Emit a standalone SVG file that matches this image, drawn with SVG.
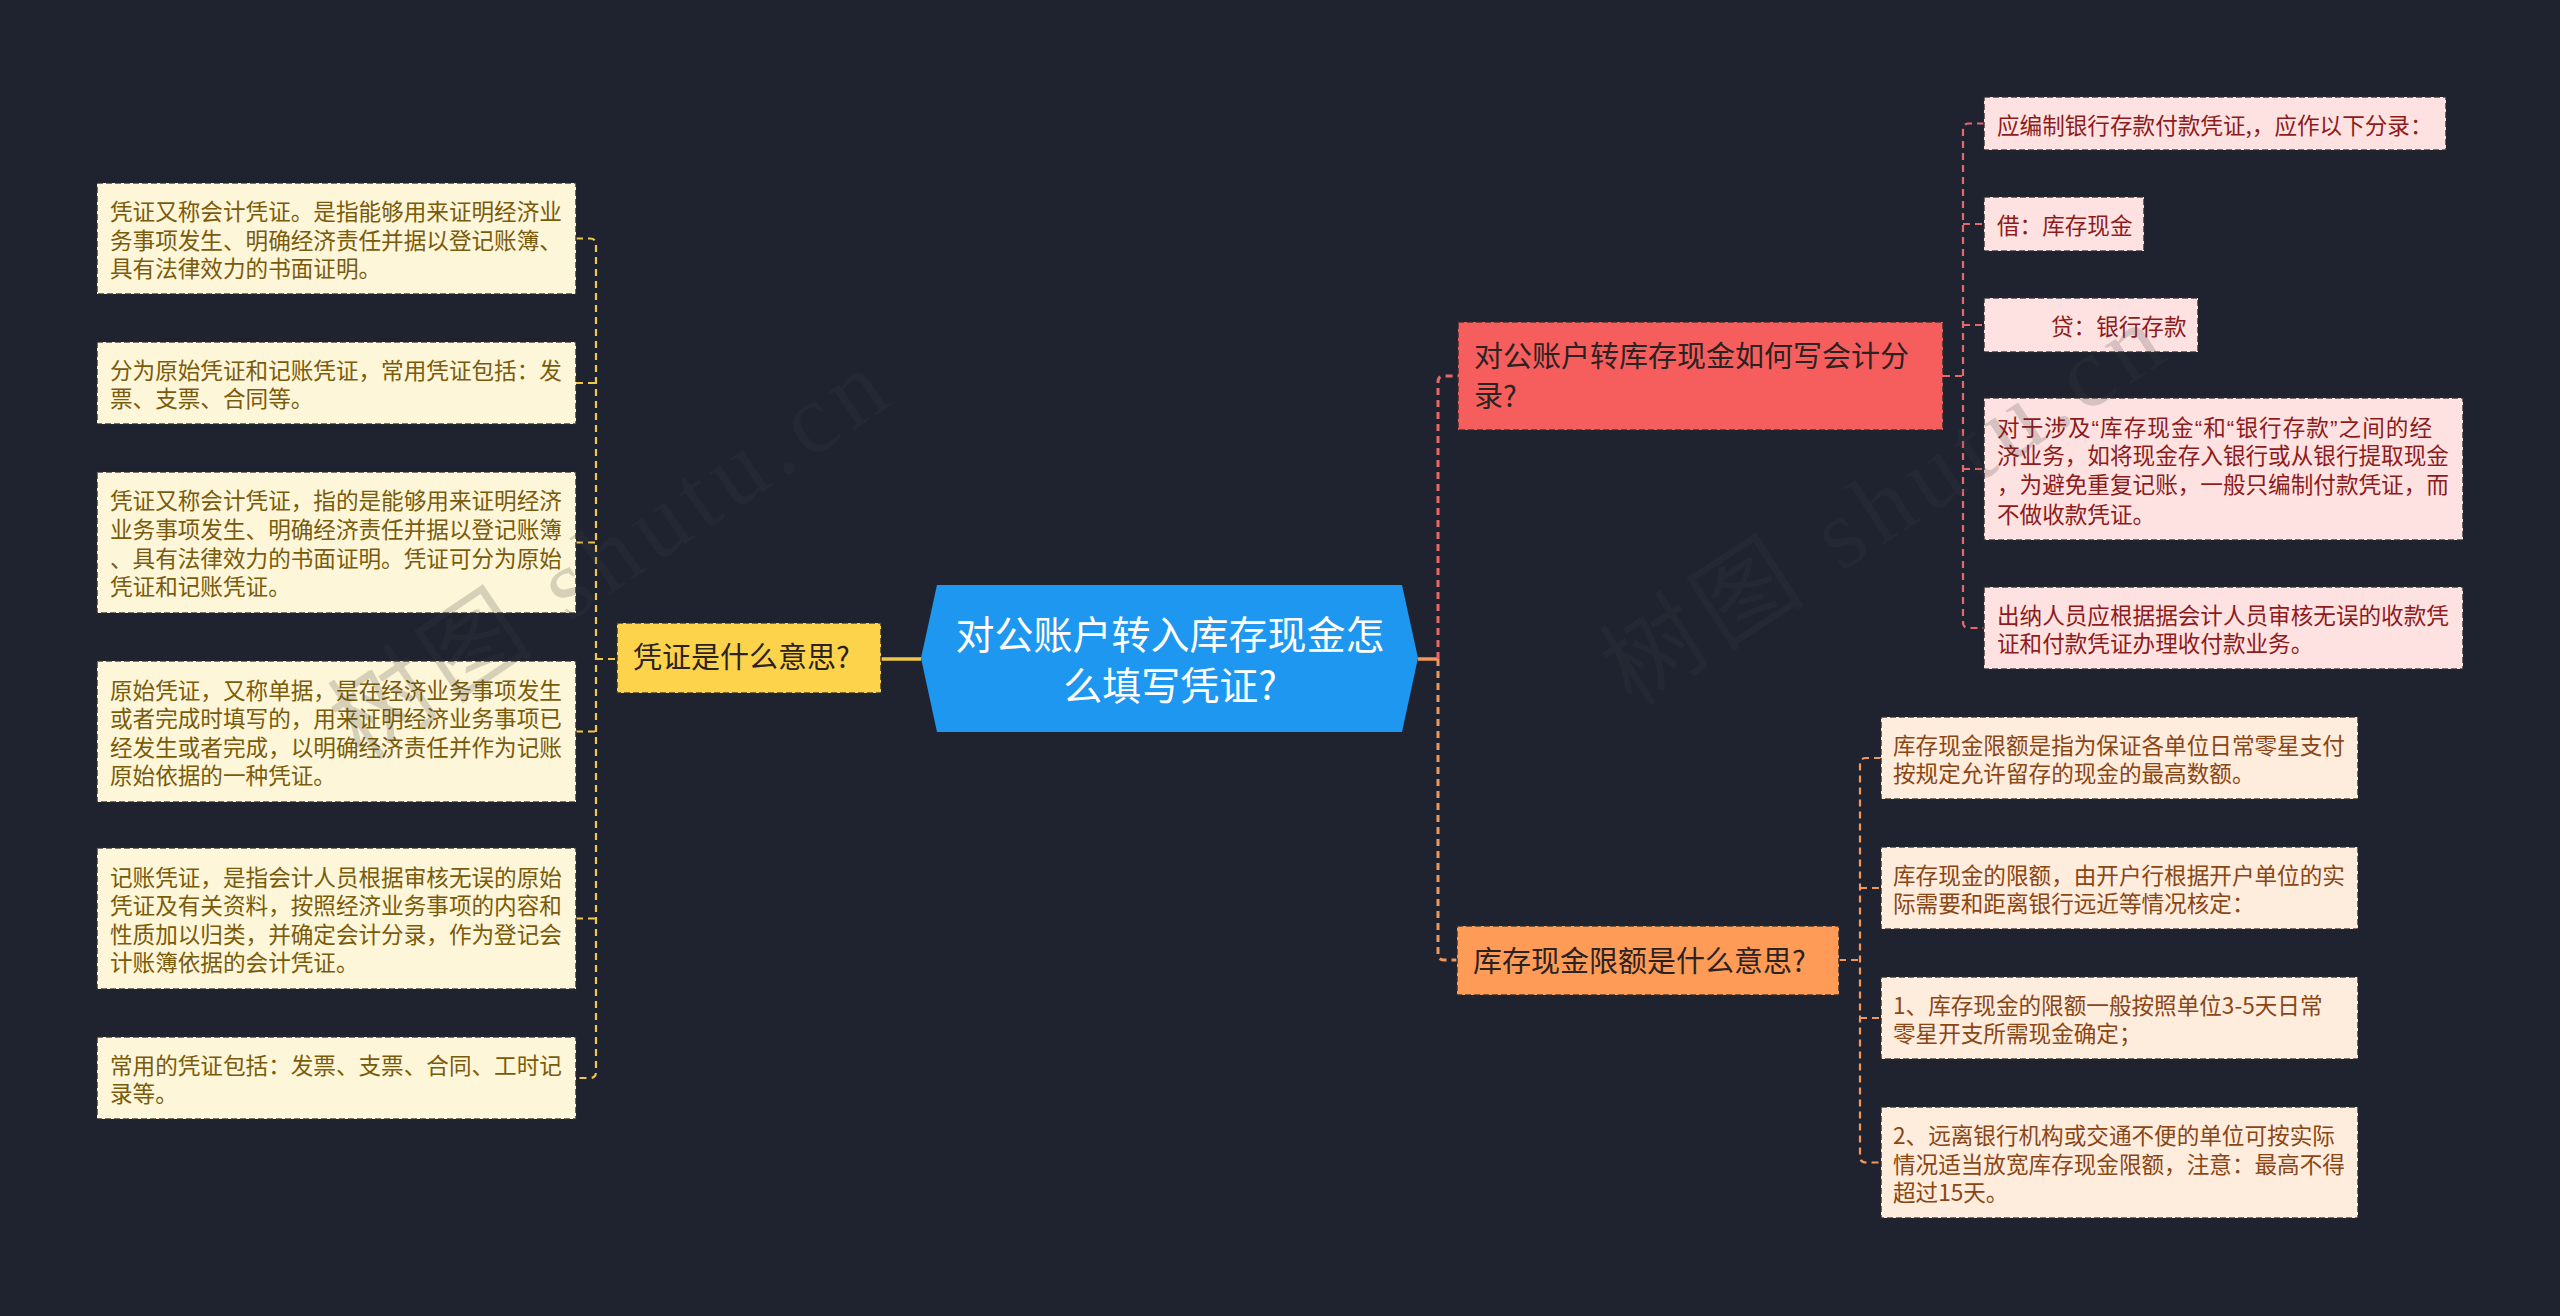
<svg xmlns="http://www.w3.org/2000/svg" width="2560" height="1316" viewBox="0 0 2560 1316">
<defs>
<style>
text{font-family:"Noto Sans CJK SC","Noto Sans",sans-serif}
.nb{stroke:#2a2a2a;stroke-opacity:.85;stroke-width:1.6;stroke-dasharray:6 3}
.ly{fill:#fdf6d9}
.lr{fill:#fde2e1}
.lo{fill:#feecdd}
.ty{font-size:22.6px;fill:#7a5b0c}
.tr{font-size:22.6px;fill:#8e1b1b}
.to{font-size:22.6px;fill:#8a4615}
.tb{font-size:29px;fill:#2b2222}
.q{font-family:"Liberation Sans",sans-serif}
.cy{fill:none;stroke:#f0c848;stroke-width:2.2;stroke-dasharray:7 5}
.cr{fill:none;stroke:#e8686a;stroke-width:2.2;stroke-dasharray:7 5}
.co{fill:none;stroke:#f2975a;stroke-width:2.2;stroke-dasharray:7 5}
.wm{font-family:"Liberation Serif","Noto Sans CJK SC",serif;font-size:100px;fill:#3c3c3c;fill-opacity:.2;letter-spacing:8px}
</style>
</defs>
<rect width="2560" height="1316" fill="#1f2330"/>

<g id="connectors">
<path d="M881 659 H921" fill="none" stroke="#f0c848" stroke-width="3.5"/>
<path d="M596 659 H617" class="cy"/>
<path d="M576 238.5 H590 Q596 238.5 596 244.5 V1072 Q596 1078 590 1078 H576" class="cy"/>
<path d="M576 383 H596 M576 542.5 H596 M576 731.5 H596 M576 918.5 H596" class="cy"/>
<path d="M1418 659 H1438" fill="none" stroke="#f2975a" stroke-width="3.5"/>
<path d="M1438 659 V382 Q1438 376 1444 376 H1458" fill="none" stroke="#e8686a" stroke-width="3" stroke-dasharray="7 5"/>
<path d="M1438 659 V954 Q1438 960 1444 960 H1457" fill="none" stroke="#f2975a" stroke-width="3" stroke-dasharray="7 5"/>
<path d="M1943 376 H1963" class="cr"/>
<path d="M1984 123.5 H1969 Q1963 123.5 1963 129.5 V622 Q1963 628 1969 628 H1984" class="cr"/>
<path d="M1963 224 H1984 M1963 325 H1984 M1963 469 H1984" class="cr"/>
<path d="M1839 960 H1860" class="co"/>
<path d="M1881 758 H1866 Q1860 758 1860 764 V1156.5 Q1860 1162.5 1866 1162.5 H1881" class="co"/>
<path d="M1860 888 H1881 M1860 1018 H1881" class="co"/>
</g>

<g id="root">
<polygon points="937,585 1402,585 1418,658 1402,732 937,732 921,658" fill="#1d97f0"/>
<text x="1170" y="648.5" text-anchor="middle" font-size="39" fill="#ffffff">对公账户转入库存现金怎</text>
<text x="1170" y="700" text-anchor="middle" font-size="39" fill="#ffffff">么填写凭证?</text>
</g>

<g id="b-yellow">
<rect x="617" y="623" width="264" height="70" fill="#fed34c" class="nb"/>
<text x="633" y="668" class="tb">凭证是什么意思?</text>
</g>

<g id="b-red">
<rect x="1458" y="322" width="485" height="108" fill="#f65e5e" class="nb"/>
<text x="1474" y="367.4" class="tb">对公账户转库存现金如何写会计分</text>
<text x="1474" y="407.4" class="tb">录?</text>
</g>

<g id="b-orange">
<rect x="1457" y="926" width="382" height="69" fill="#fe9b57" class="nb"/>
<text x="1473" y="971.5" class="tb">库存现金限额是什么意思?</text>
</g>

<g id="y1">
<rect x="97" y="183" width="479" height="111" class="ly nb"/>
<text x="110" y="220" class="ty">凭证又称会计凭证。是指能够用来证明经济业</text>
<text x="110" y="248.5" class="ty">务事项发生、明确经济责任并据以登记账簿、</text>
<text x="110" y="277" class="ty">具有法律效力的书面证明。</text>
</g>
<g id="y2">
<rect x="97" y="342" width="479" height="82" class="ly nb"/>
<text x="110" y="378.7" class="ty">分为原始凭证和记账凭证，常用凭证包括：发</text>
<text x="110" y="407.3" class="ty">票、支票、合同等。</text>
</g>
<g id="y3">
<rect x="97" y="472" width="479" height="141" class="ly nb"/>
<text x="110" y="509" class="ty">凭证又称会计凭证，指的是能够用来证明经济</text>
<text x="110" y="538" class="ty">业务事项发生、明确经济责任并据以登记账簿</text>
<text x="110" y="566.7" class="ty">、具有法律效力的书面证明。凭证可分为原始</text>
<text x="110" y="595.3" class="ty">凭证和记账凭证。</text>
</g>
<g id="y4">
<rect x="97" y="661" width="479" height="141" class="ly nb"/>
<text x="110" y="698.6" class="ty">原始凭证，又称单据，是在经济业务事项发生</text>
<text x="110" y="727.2" class="ty">或者完成时填写的，用来证明经济业务事项已</text>
<text x="110" y="755.8" class="ty">经发生或者完成，以明确经济责任并作为记账</text>
<text x="110" y="784.4" class="ty">原始依据的一种凭证。</text>
</g>
<g id="y5">
<rect x="97" y="848" width="479" height="141" class="ly nb"/>
<text x="110" y="885.6" class="ty">记账凭证，是指会计人员根据审核无误的原始</text>
<text x="110" y="914.2" class="ty">凭证及有关资料，按照经济业务事项的内容和</text>
<text x="110" y="942.8" class="ty">性质加以归类，并确定会计分录，作为登记会</text>
<text x="110" y="971.4" class="ty">计账簿依据的会计凭证。</text>
</g>
<g id="y6">
<rect x="97" y="1037" width="479" height="82" class="ly nb"/>
<text x="110" y="1073.7" class="ty">常用的凭证包括：发票、支票、合同、工时记</text>
<text x="110" y="1102.3" class="ty">录等。</text>
</g>

<g id="r1">
<rect x="1984" y="97" width="462" height="53" class="lr nb"/>
<text x="1997" y="133.5" class="tr">应编制银行存款付款凭证,，应作以下分录：</text>
</g>
<g id="r2">
<rect x="1984" y="197" width="160" height="54" class="lr nb"/>
<text x="1997" y="234" class="tr">借：库存现金</text>
</g>
<g id="r3">
<rect x="1984" y="298" width="214" height="54" class="lr nb"/>
<text x="2051" y="335" class="tr">贷：银行存款</text>
</g>
<g id="r4">
<rect x="1984" y="398" width="479" height="142" class="lr nb"/>
<text x="1997" y="435.6" class="tr" textLength="435" lengthAdjust="spacing">对于涉及<tspan class="q">“</tspan>库存现金<tspan class="q">“</tspan>和<tspan class="q">“</tspan>银行存款<tspan class="q">”</tspan>之间的经</text>
<text x="1997" y="464.4" class="tr">济业务，如将现金存入银行或从银行提取现金</text>
<text x="1997" y="493.3" class="tr">，为避免重复记账，一般只编制付款凭证，而</text>
<text x="1997" y="522.5" class="tr">不做收款凭证。</text>
</g>
<g id="r5">
<rect x="1984" y="587" width="479" height="82" class="lr nb"/>
<text x="1997" y="623.7" class="tr">出纳人员应根据据会计人员审核无误的收款凭</text>
<text x="1997" y="652.3" class="tr">证和付款凭证办理收付款业务。</text>
</g>

<g id="o1">
<rect x="1881" y="717" width="477" height="82" class="lo nb"/>
<text x="1893" y="753.6" class="to">库存现金限额是指为保证各单位日常零星支付</text>
<text x="1893" y="782.3" class="to">按规定允许留存的现金的最高数额。</text>
</g>
<g id="o2">
<rect x="1881" y="847" width="477" height="82" class="lo nb"/>
<text x="1893" y="883.7" class="to">库存现金的限额，由开户行根据开户单位的实</text>
<text x="1893" y="912.3" class="to">际需要和距离银行远近等情况核定：</text>
</g>
<g id="o3">
<rect x="1881" y="977" width="477" height="82" class="lo nb"/>
<text x="1893" y="1013.7" class="to">1、库存现金的限额一般按照单位3-5天日常</text>
<text x="1893" y="1042.3" class="to">零星开支所需现金确定；</text>
</g>
<g id="o4">
<rect x="1881" y="1107" width="477" height="111" class="lo nb"/>
<text x="1893" y="1144" class="to">2、远离银行机构或交通不便的单位可按实际</text>
<text x="1893" y="1172.5" class="to">情况适当放宽库存现金限额，注意：最高不得</text>
<text x="1893" y="1201.1" class="to">超过15天。</text>
</g>

<g id="watermarks">
<text class="wm" transform="translate(362 762) rotate(-34)">树图 shutu.cn</text>
<text class="wm" transform="translate(1632 708) rotate(-33)">树图 shutu.cn</text>
</g>
</svg>
